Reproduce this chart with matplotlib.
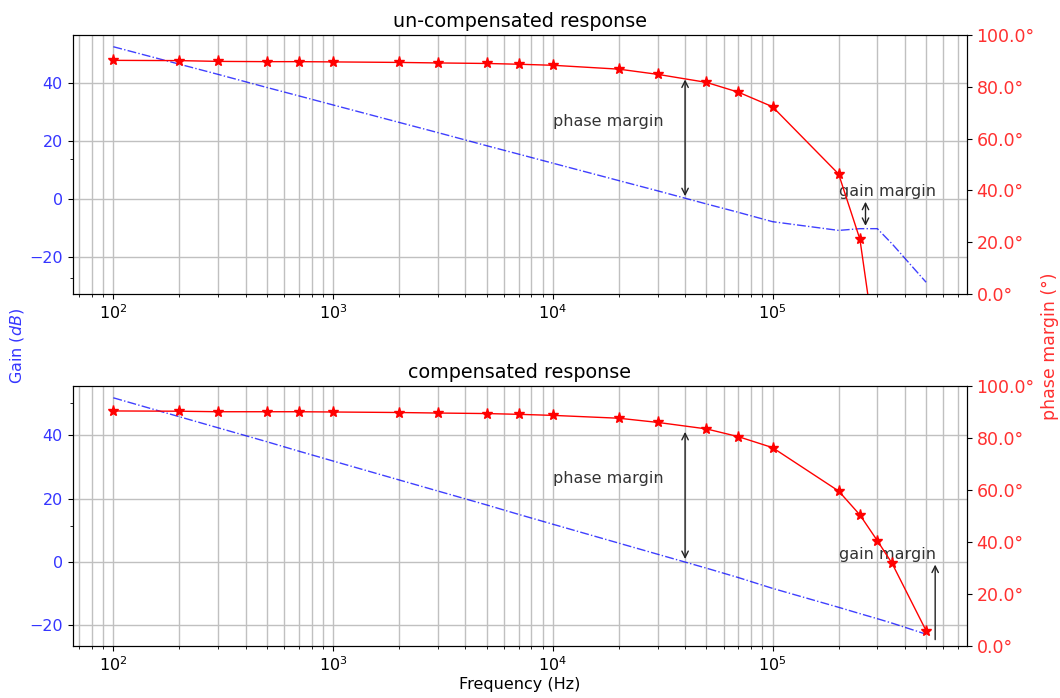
import matplotlib
matplotlib.use('Agg')
import matplotlib.pyplot as plt
from matplotlib.ticker import FormatStrFormatter, FixedLocator, MultipleLocator

## frequency points (Hz)
freq = [100, 200, 300, 500, 700, 1e3, 2e3, 3e3, 5e3, 7e3, 1e4, 2e4, 3e4, 5e4, 7e4,
        1e5, 2e5, 2.5e5, 3e5, 3.5e5, 5e5]

## un-compensated
gain_unc = [52.3, 46.3, 42.8, 38.3, 35.4, 32.3, 26.3, 22.8, 18.3, 15.4, 12.3, 6.3, 2.8,
            -1.7, -4.6, -7.8, -10.8, -10.2, -10.2, -15.4, -28.6]
phase_unc = [90.2, 90.1, 89.8, 89.7, 89.7, 89.6, 89.4, 89.2, 89.0, 88.7, 88.3, 86.8, 84.8,
             81.7, 77.9, 72.3, 46.3, 21.1, -26.0, -60.0, -100.0]

## compensated
gain_comp = [51.9, 45.9, 42.4, 38.0, 35.0, 31.9, 25.9, 22.4, 18.0, 15.0, 11.9, 5.9, 2.4,
             -2.0, -5.0, -8.4, -14.4, -16.4, -18.0, -19.4, -22.9]
phase_comp = [90.4, 90.3, 90.1, 90.1, 90.1, 90.0, 89.8, 89.6, 89.4, 89.1, 88.7, 87.6, 86.0,
              83.5, 80.5, 76.3, 59.6, 50.4, 40.5, 31.8, 5.9]

titles = ['un-compensated response', 'compensated response']

plt.rcParams['font.size'] = 11.5
fig = plt.figure(figsize=(10.6, 6.98), dpi=100)
ax_top = fig.add_axes([0.0686, 0.5788, 0.8434, 0.3711])
ax_bot = fig.add_axes([0.0686, 0.0745, 0.8434, 0.3725])


def bode(ax, gain, phase, title, minor_y):
    ax.semilogx(freq, gain, 'b-.', lw=1, alpha=0.75)
    ax.set_title(title, size=13.8)
    ax.tick_params(axis='y', labelcolor='#3535ff')
    ax.yaxis.set_major_locator(MultipleLocator(20))
    ax.yaxis.set_minor_locator(FixedLocator(minor_y))
    ax.grid(True, axis='x', which='both', color='#c0c0c0', lw=1)
    ax.grid(True, axis='y', which='major', color='#c0c0c0', lw=1)
    ax2 = ax.twinx()
    ax2.plot(freq, phase, 'r-*', lw=1, markersize=8)
    ax2.set_ylim(0, 100)
    ax2.yaxis.set_major_formatter(FormatStrFormatter('%.1f°'))
    ax2.tick_params(axis='y', labelcolor='#ff3030', labelsize=12.5)
    ## phase margin
    ax.annotate('', xy=(4e4, 42), xytext=(4e4, 0),
                arrowprops=dict(arrowstyle='<->', color='#222222'))
    ax.text(1e4, 25, 'phase margin', color='#333333')
    ax.text(2e5, 1, 'gain margin', color='#333333')
    return ax2


bode(ax_top, gain_unc, phase_unc, titles[0], [13.8, -27])
bode(ax_bot, gain_comp, phase_comp, titles[1], [50.3, 11.2])

## gain margin arrows
ax_top.annotate('', xy=(2.65e5, 0), xytext=(2.65e5, -10.2),
                arrowprops=dict(arrowstyle='<->', color='#222222'))
ax_bot.annotate('', xy=(5.5e5, 0), xytext=(5.5e5, -25.5),
                arrowprops=dict(arrowstyle='->', color='#222222'))

ax_bot.set_xlabel('Frequency (Hz)', labelpad=2)
fig.text(0.016, 0.504, 'Gain ($dB$)', color='#3535ff', rotation=90, va='center', ha='center')
fig.text(0.991, 0.504, 'phase margin (°)', color='#ff3030', rotation=90, va='center',
         ha='center', fontsize=12.5)

plt.savefig('out.png', dpi=100)
